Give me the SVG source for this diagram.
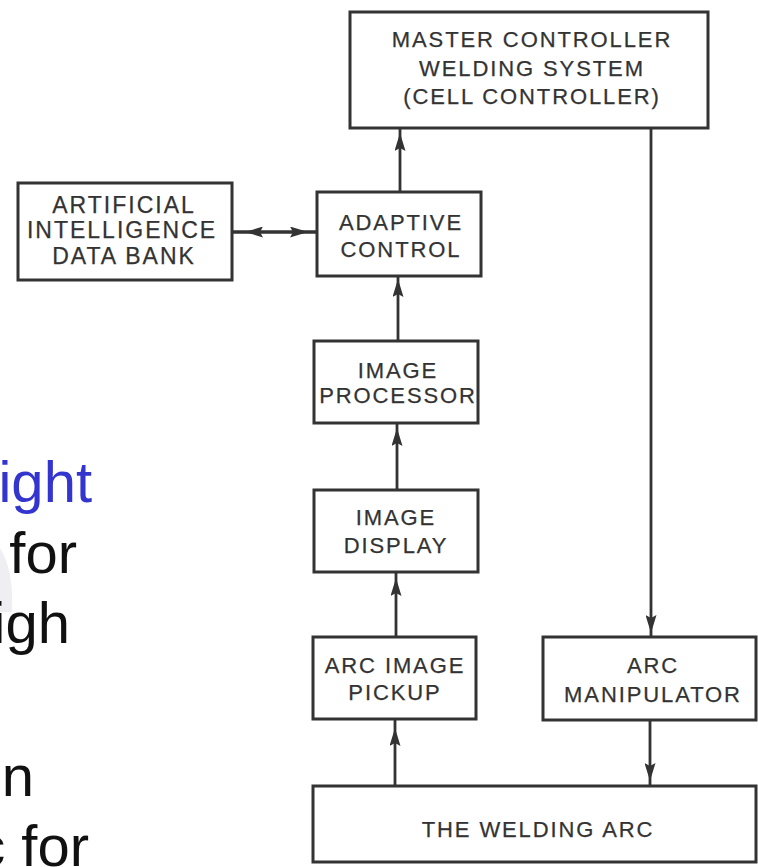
<svg xmlns="http://www.w3.org/2000/svg" width="758" height="867" viewBox="0 0 758 867">
<style>
.box{fill:#fff;stroke:#333;stroke-width:3}
.lbl{font-family:"Liberation Sans",Arial,sans-serif;font-size:22px;letter-spacing:1.9px;fill:#333;stroke:#333;stroke-width:0.25;text-anchor:middle}
.ai{font-size:23px;letter-spacing:2px}
.conn{fill:none;stroke:#333;stroke-width:2.8}
.slide{font-family:"Liberation Sans",Arial,sans-serif;font-size:58px;fill:#111;text-anchor:end}
</style>
<defs>
<marker id="ah" viewBox="0 0 18 11" refX="18" refY="5.5" markerWidth="18" markerHeight="11" markerUnits="userSpaceOnUse" orient="auto">
<path d="M0,0 L18,5.5 L0,11 L3,5.5 z" fill="#333"/>
</marker>
</defs>
<rect width="758" height="867" fill="#fff"/>
<path d="M0,548 Q14,570 12,612 L0,612 z" fill="#efeff3"/>
<g id="slide-text">
<text class="slide" x="92" y="502" style="fill:#3434cf">ight</text>
<text class="slide" x="77" y="573">for</text>
<text class="slide" x="70" y="643">igh</text>
<text class="slide" x="34" y="796">on</text>
<text class="slide" x="89" y="866">c for</text>
</g>
<g id="connectors">
<path class="conn" d="M400,192 L400,133 L400,128" marker-mid="url(#ah)"/>
<path class="conn" d="M398,341 L398,279 L398,276" marker-mid="url(#ah)"/>
<path class="conn" d="M397,490 L397,428 L397,423" marker-mid="url(#ah)"/>
<path class="conn" d="M396,637 L396,578 L396,572" marker-mid="url(#ah)"/>
<path class="conn" d="M395,786 L395,728 L395,719" marker-mid="url(#ah)"/>
<path class="conn" d="M651,128 L651,633 L651,637" marker-mid="url(#ah)"/>
<path class="conn" d="M650,720 L650,781 L650,786" marker-mid="url(#ah)"/>
<path class="conn" d="M317,232 L245,232 L232,232" marker-mid="url(#ah)"/>
<path class="conn" d="M232,232 L308,232 L317,232" marker-mid="url(#ah)"/>
</g>
<g id="master">
<rect class="box" x="350" y="12" width="358" height="116"/>
<text class="lbl" x="532" y="47">MASTER CONTROLLER</text>
<text class="lbl" x="532" y="76">WELDING SYSTEM</text>
<text class="lbl" x="532" y="104">(CELL CONTROLLER)</text>
</g>
<g id="ai-bank">
<rect class="box" x="18" y="183" width="214" height="97"/>
<text class="lbl ai" x="124" y="213">ARTIFICIAL</text>
<text class="lbl ai" x="122" y="238">INTELLIGENCE</text>
<text class="lbl ai" x="124" y="264">DATA BANK</text>
</g>
<g id="adaptive">
<rect class="box" x="317" y="192" width="164" height="84"/>
<text class="lbl" x="401" y="230">ADAPTIVE</text>
<text class="lbl" x="401" y="257">CONTROL</text>
</g>
<g id="processor">
<rect class="box" x="314" y="341" width="164" height="82"/>
<text class="lbl" x="398" y="378">IMAGE</text>
<text class="lbl" x="398" y="403">PROCESSOR</text>
</g>
<g id="display">
<rect class="box" x="314" y="490" width="164" height="82"/>
<text class="lbl" x="396" y="525">IMAGE</text>
<text class="lbl" x="396" y="553">DISPLAY</text>
</g>
<g id="pickup">
<rect class="box" x="313" y="637" width="163" height="82"/>
<text class="lbl" x="395" y="673">ARC IMAGE</text>
<text class="lbl" x="395" y="700">PICKUP</text>
</g>
<g id="manipulator">
<rect class="box" x="543" y="637" width="213" height="83"/>
<text class="lbl" x="653" y="673">ARC</text>
<text class="lbl" x="653" y="702">MANIPULATOR</text>
</g>
<g id="welding-arc">
<rect class="box" x="313" y="786" width="443" height="76"/>
<text class="lbl" x="538" y="837">THE WELDING ARC</text>
</g>
</svg>
